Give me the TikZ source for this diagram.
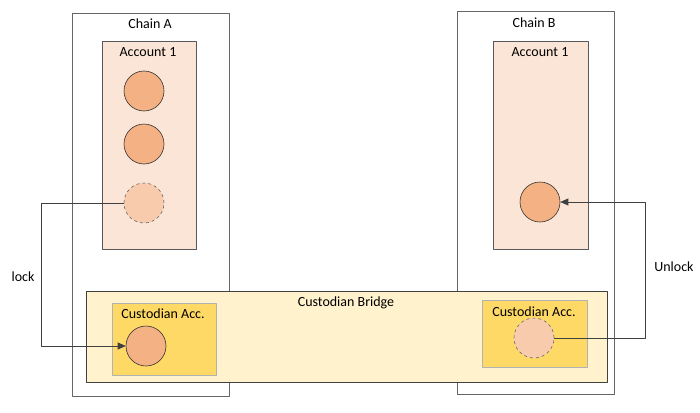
\documentclass[tikz,border=0pt]{standalone}
\usepackage{fontspec}
\setmainfont{Carlito}
\usetikzlibrary{positioning,arrows.meta}
\definecolor{acctfill}{HTML}{FBE5D6}
\definecolor{coinfill}{HTML}{F4B183}
\definecolor{ghostfill}{HTML}{F8CBAD}
\definecolor{bridgefill}{HTML}{FFF2CC}
\definecolor{custfill}{HTML}{FFD966}
\begin{document}
\begin{tikzpicture}[x=1pt, y=-1pt, font=\fontsize{14}{16}\selectfont, line join=round, >={Triangle[length=8pt,width=7pt]},
  chain/.style={draw=black!60, line width=0.8pt, fill=white, anchor=north west, inner sep=0pt},
  account/.style={draw=black!65, line width=0.8pt, fill=acctfill, anchor=north west, inner sep=0pt},
  bridge/.style={draw=black!75, line width=0.8pt, fill=bridgefill, anchor=north west, inner sep=0pt},
  custacc/.style={draw=black!30, line width=0.8pt, fill=custfill, anchor=north west, inner sep=0pt},
  coin/.style={circle, draw=black!80, line width=0.6pt, fill=coinfill, minimum size=40pt, inner sep=0pt},
  ghost/.style={coin, dashed, draw=black!60, fill=ghostfill},
  link/.style={->, draw=black!75, line width=0.7pt}]
 \useasboundingbox (0,0) rectangle (700,412);
 % chains
 \node[chain, minimum width=157pt, minimum height=383pt] (chainA) at (72,13) {};
 \node[chain, minimum width=157pt, minimum height=383pt] (chainB) at (457,11) {};
 \node (tchainA) at (150,24) {Chain A};
 \node (tchainB) at (534,23) {Chain B};
 % accounts
 \node[account, minimum width=94pt, minimum height=208pt] (accA) at (102,41) {};
 \node[account, minimum width=95pt, minimum height=208pt] (accB) at (493,41) {};
 \node (taccA) at (148,52) {Account 1};
 \node (taccB) at (540,52) {Account 1};
 \node[coin] (a1) at (144,91) {};
 \node[coin] (a2) at (144,144) {};
 \node[ghost] (a3) at (144,203) {};
 \node[coin] (b1) at (540,202) {};
 % bridge
 \node[bridge, minimum width=521pt, minimum height=91pt] (bridge) at (86,291) {};
 \node (tbridge) at (346,303) {Custodian Bridge};
 \node[custacc, minimum width=104pt, minimum height=72pt] (custA) at (112,303) {};
 \node[custacc, minimum width=105pt, minimum height=67pt] (custB) at (482,300) {};
 \node (tcustA) at (163,314) {Custodian Acc.};
 \node (tcustB) at (534,312) {Custodian Acc.};
 \node[coin] (ca1) at (146,346) {};
 \node[ghost] (cb1) at (534,338) {};
 % lock / unlock
 \coordinate (lockL) at (41,0);
 \coordinate (unlockR) at (645,0);
 \draw[link] (a3.west) -- (a3.west -| lockL) |- (ca1.west);
 \draw[link] (cb1.east) -- (cb1.east -| unlockR) |- (b1.east);
 \node (tlock) at (23,277) {lock};
 \node (tunlock) at (674,267) {Unlock};
\end{tikzpicture}
\end{document}
